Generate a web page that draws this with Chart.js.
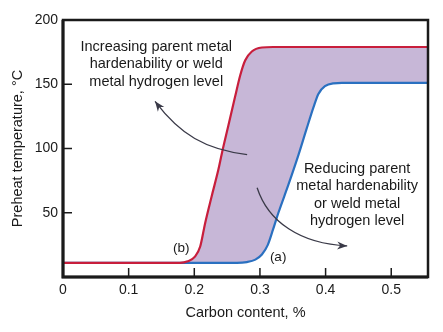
<!DOCTYPE html>
<html lang="en">
<head>
<meta charset="UTF-8">
<title>Preheat temperature vs carbon content</title>
<script src="https://cdn.jsdelivr.net/npm/chart.js"></script>
<style>
  html, body { margin: 0; padding: 0; background: #fff; }
  #wrap { width: 443px; height: 332px; position: relative; }
</style>
</head>
<body>
<div id="wrap"><canvas id="chart"></canvas></div>
<script>
// curve (b): upper limit
const redX = [0, 0.178, 0.19, 0.201, 0.209, 0.2165, 0.2264, 0.2367, 0.2419, 0.252, 0.262, 0.27, 0.2774, 0.2876, 0.303, 0.32, 0.556];
const redY = [11, 11, 12.2, 15.9, 23.7, 41.9, 62.7, 83.6, 96, 118, 140, 157, 168.5, 175.5, 178.6, 179, 179];
// curve (a): lower limit
const blueX = [0, 0.265, 0.28, 0.293, 0.303, 0.312, 0.32, 0.328, 0.3435, 0.3587, 0.3715, 0.3815, 0.389, 0.399, 0.412, 0.425, 0.556];
const blueY = [11, 11, 11.6, 13.5, 17.5, 25, 37, 49.8, 72, 95, 116, 132, 142.5, 148.5, 150.7, 151, 151];

const xMin = 0, xMax = 0.556, xStep = 0.1;
const yMin = 0, yMax = 200, yStep = 50;

const noteUp = ['Increasing parent metal', 'hardenability or weld', 'metal hydrogen level'];
const noteDown = ['Reducing parent', 'metal hardenability', 'or weld metal', 'hydrogen level'];

const font = "Arial, 'Liberation Sans', sans-serif";
const ink = '#1a1a1a';

function pts(xs, ys) {
  return xs.map((x, i) => ({ x: x, y: ys[i] }));
}

// frame, inward ticks, notes and arrows
const decor = {
  id: 'decor',
  afterDatasetsDraw(chart) {
    const ctx = chart.ctx;
    const a = chart.chartArea;
    const xs = chart.scales.x, ys = chart.scales.y;
    const X = v => xs.getPixelForValue(v);
    const Y = v => ys.getPixelForValue(v);
    ctx.save();

    // ticks pointing into the plot
    ctx.strokeStyle = ink;
    ctx.lineWidth = 1.5;
    xs.ticks.forEach(t => {
      if (t.value <= xMin) return;
      const px = X(t.value);
      ctx.beginPath(); ctx.moveTo(px, a.bottom); ctx.lineTo(px, a.bottom - 9); ctx.stroke();
    });
    ys.ticks.forEach(t => {
      if (t.value <= yMin || t.value >= yMax) return;
      const py = Y(t.value);
      ctx.beginPath(); ctx.moveTo(a.left, py); ctx.lineTo(a.left + 9, py); ctx.stroke();
    });

    // frame
    ctx.lineWidth = 2.5;
    ctx.strokeRect(a.left, a.top, a.right - a.left, a.bottom - a.top);
    ctx.lineWidth = 3;
    ctx.beginPath();
    ctx.moveTo(a.left, a.top); ctx.lineTo(a.left, a.bottom); ctx.lineTo(a.right, a.bottom);
    ctx.stroke();

    // notes
    ctx.fillStyle = ink;
    ctx.font = '14.5px ' + font;
    ctx.textAlign = 'center';
    ctx.textBaseline = 'middle';
    noteUp.forEach((s, i) => ctx.fillText(s, X(0.142), Y(179) + i * 17.5));
    noteDown.forEach((s, i) => ctx.fillText(s, X(0.448), Y(84.4) + i * 17.5));
    ctx.font = '13.5px ' + font;
    ctx.fillText('(b)', X(0.18), Y(22.7));
    ctx.fillText('(a)', X(0.3277), Y(15.6));

    // arrows
    function arrow(p) {
      const q = p.map(v => [X(v[0]), Y(v[1])]);
      ctx.strokeStyle = '#3a3a48';
      ctx.fillStyle = '#3a3a48';
      ctx.lineWidth = 1.3;
      ctx.beginPath();
      ctx.moveTo(q[0][0], q[0][1]);
      ctx.bezierCurveTo(q[1][0], q[1][1], q[2][0], q[2][1], q[3][0], q[3][1]);
      ctx.stroke();
      const ang = Math.atan2(q[3][1] - q[2][1], q[3][0] - q[2][0]);
      const L = 10, W = 4;
      const ex = q[3][0], ey = q[3][1];
      ctx.beginPath();
      ctx.moveTo(ex, ey);
      ctx.lineTo(ex - L * Math.cos(ang) + W * Math.sin(ang), ey - L * Math.sin(ang) - W * Math.cos(ang));
      ctx.lineTo(ex - 0.7 * L * Math.cos(ang), ey - 0.7 * L * Math.sin(ang));
      ctx.lineTo(ex - L * Math.cos(ang) - W * Math.sin(ang), ey - L * Math.sin(ang) + W * Math.cos(ang));
      ctx.closePath();
      ctx.fill();
    }
    arrow([[0.2805, 95.3], [0.2165, 99.2], [0.1784, 110.9], [0.1402, 136.7]]);
    arrow([[0.2957, 69.5], [0.3125, 43], [0.3613, 25.8], [0.4329, 24.2]]);

    ctx.restore();
  }
};

new Chart(document.getElementById('chart'), {
  type: 'line',
  data: {
    datasets: [
      {
        label: '(b)',
        data: pts(redX, redY),
        borderColor: '#c81e3c',
        borderWidth: 2.2,
        backgroundColor: '#c7b7d7',
        fill: { target: 1 },
        pointRadius: 0,
        cubicInterpolationMode: 'monotone'
      },
      {
        label: '(a)',
        data: pts(blueX, blueY),
        borderColor: '#2a70c0',
        borderWidth: 2.2,
        fill: false,
        pointRadius: 0,
        cubicInterpolationMode: 'monotone'
      }
    ]
  },
  options: {
    responsive: true,
    maintainAspectRatio: false,
    animation: false,
    layout: { padding: { left: 0, right: 15, top: 20, bottom: 0 } },
    plugins: {
      legend: { display: false },
      tooltip: { enabled: false },
      filler: { drawTime: 'beforeDatasetsDraw' }
    },
    scales: {
      x: {
        type: 'linear',
        min: xMin,
        max: xMax,
        grid: { display: false, drawTicks: false },
        border: { display: false },
        ticks: {
          stepSize: xStep,
          includeBounds: false,
          padding: 5,
          color: ink,
          font: { family: font, size: 14 },
          callback: v => (Math.round(v * 10) / 10).toString()
        },
        title: {
          display: true,
          text: 'Carbon content, %',
          color: ink,
          font: { family: font, size: 14.5 },
          padding: { top: 0, bottom: 10 }
        },
        afterFit: s => { s.height = 55; }
      },
      y: {
        min: yMin,
        max: yMax,
        grid: { display: false, drawTicks: false },
        border: { display: false },
        ticks: {
          stepSize: yStep,
          padding: 5,
          color: ink,
          font: { family: font, size: 14 },
          callback: v => (v === 0 ? '' : v)
        },
        title: {
          display: true,
          text: 'Preheat temperature, °C',
          color: ink,
          font: { family: font, size: 14.5 },
          padding: { top: 9, bottom: 0 }
        },
        afterFit: s => { s.width = 63; }
      }
    }
  },
  plugins: [decor]
});
</script>
</body>
</html>
